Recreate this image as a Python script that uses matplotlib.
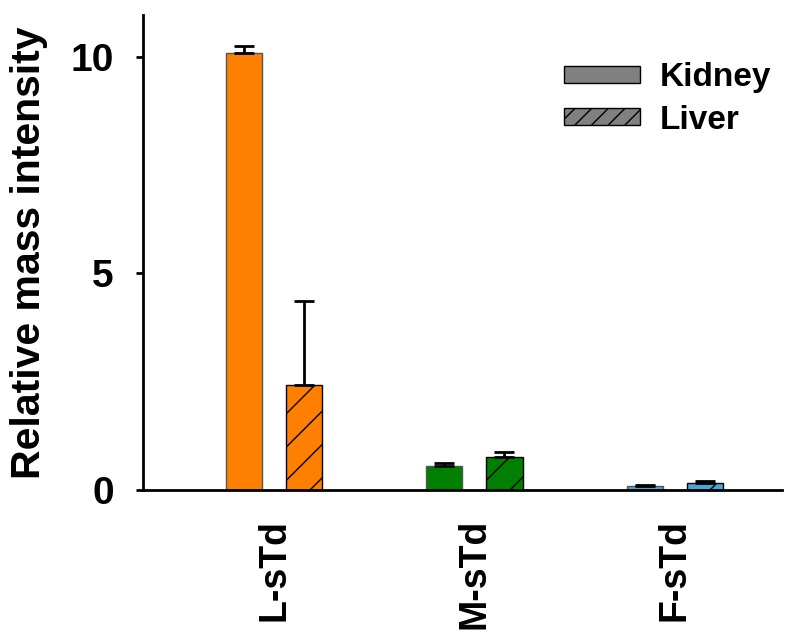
import numpy as np
import matplotlib.pyplot as plt
from matplotlib.patches import Patch

plt.rcParams['font.family'] = ['Liberation Sans', 'DejaVu Sans']
plt.rcParams['font.weight'] = 'bold'
plt.rcParams['hatch.linewidth'] = 1.0

groups = ["L-sTd", "M-sTd", "F-sTd"]
colors = ["#ff8000", "#007f00", "#4aa6d6"]
kidney = [10.09, 0.55, 0.09]
kidney_err = [0.16, 0.07, 0.02]
liver = [2.42, 0.76, 0.16]
liver_err = [1.94, 0.12, 0.05]

x = np.arange(1, len(groups) + 1)
w = 0.18
off = 0.15

fig = plt.figure(figsize=(7.97, 6.41), dpi=100)
ax = fig.add_axes([0.1794, 0.2356, 0.8016, 0.741])

ax.bar(x - off, kidney, w, color=colors, edgecolor="#555555", linewidth=1.0,
       yerr=[np.zeros(3), kidney_err], error_kw=dict(ecolor="black", elinewidth=2, capsize=7, capthick=2))
ax.bar(x + off, liver, w, color=colors, edgecolor="black", linewidth=1.0, hatch="/",
       yerr=[np.zeros(3), liver_err], error_kw=dict(ecolor="black", elinewidth=2, capsize=7, capthick=2))

ax.set_xlim(0.345, 3.535)
ax.set_ylim(0, 10.97)
ax.set_yticks([0, 5, 10])
ax.set_xticks(x)
ax.set_xticklabels(groups, rotation=90, fontsize=27, fontweight="bold", va="top")
ax.tick_params(axis="x", length=0, pad=21)
ax.tick_params(axis="y", labelsize=28, width=2, length=5, pad=16)
ax.set_ylabel("Relative mass intensity", fontsize=29.5, fontweight="bold", labelpad=16)

for s in ["top", "right"]:
    ax.spines[s].set_visible(False)
for s in ["left", "bottom"]:
    ax.spines[s].set_linewidth(2)

handles = [Patch(facecolor="#808080", edgecolor="black", linewidth=1.0, label="Kidney"),
           Patch(facecolor="#808080", edgecolor="black", linewidth=1.0, hatch="//", label="Liver")]
ax.legend(handles=handles, loc="upper right", bbox_to_anchor=(1.03, 0.964), frameon=False,
          prop=dict(size=24, weight="bold"), handlelength=2.28, handleheight=0.42,
          handletextpad=0.6, labelspacing=0.35)

fig.savefig("out.png", dpi=100)
